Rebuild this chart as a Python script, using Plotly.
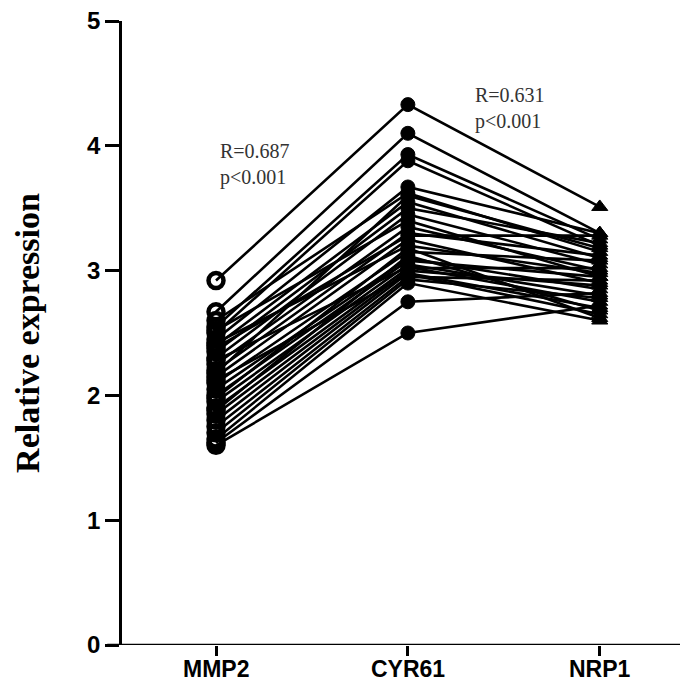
import plotly.graph_objects as go

categories = ["MMP2", "CYR61", "NRP1"]

mmp2 = [2.92, 2.67, 2.55, 2.50, 2.45, 2.60, 2.40, 2.35, 2.30, 2.52, 2.25, 2.20, 2.15, 2.42, 2.10, 2.05,
        2.00, 1.95, 2.28, 1.90, 1.85, 1.80, 2.12, 1.75, 1.70, 1.98, 1.65, 1.62, 1.60, 2.18, 1.88, 2.38]
cyr61 = [4.33, 4.10, 3.93, 3.88, 3.67, 3.62, 3.55, 3.50, 3.45, 3.40, 3.35, 3.30, 3.25, 3.20, 3.15, 3.10,
         3.08, 3.05, 3.03, 3.02, 3.00, 2.98, 2.97, 2.95, 2.93, 3.18, 2.90, 2.75, 2.50, 3.60, 3.12, 3.28]
nrp1 = [3.51, 3.30, 3.25, 3.20, 3.30, 3.15, 3.10, 3.22, 3.05, 2.95, 3.00, 3.12, 2.90, 2.98, 3.08, 2.85,
        2.95, 2.80, 2.75, 3.02, 2.88, 2.70, 2.65, 2.92, 2.78, 2.62, 2.60, 2.82, 2.72, 3.18, 2.68, 3.28]

y_ticks = [0, 1, 2, 3, 4, 5]
annotations_text = ["R=0.687<br>p<0.001", "R=0.631<br>p<0.001"]

fig = go.Figure()
for a, b, c in zip(mmp2, cyr61, nrp1):
    fig.add_trace(go.Scatter(
        x=categories, y=[a, b, c], mode="lines+markers",
        line=dict(color="black", width=2.6),
        marker=dict(symbol=["circle-open", "circle", "triangle-up"], size=[15, 14, 14],
                    color="black", opacity=1, line=dict(color="black", width=[4.5, 1, 1])),
        showlegend=False, hoverinfo="skip"))

fig.add_annotation(x=0.01, y=3.85, xref="x", yref="y", text=annotations_text[0], showarrow=False,
                   xanchor="left", yanchor="middle", align="left",
                   font=dict(family="Liberation Serif", size=20, color="#333333"))
fig.add_annotation(x=1.34, y=4.30, xref="x", yref="y", text=annotations_text[1], showarrow=False,
                   xanchor="left", yanchor="middle", align="left",
                   font=dict(family="Liberation Serif", size=20, color="#333333"))

# category labels under the ticks
for cat in categories:
    fig.add_annotation(x=cat, y=0, xref="x", yref="paper", text=cat, showarrow=False,
                       xanchor="center", yanchor="top", yshift=-10, borderpad=0,
                       font=dict(family="Liberation Sans", size=23, color="black", weight="bold"))

# x axis line extending slightly left of the y axis
fig.add_shape(type="line", xref="paper", yref="y", x0=-0.026, x1=1, y0=0, y1=0,
              line=dict(color="black", width=2.6))

# The page body has a default 8px margin, so the figure is 680px and the margins are shifted by 8px
fig.update_layout(
    width=680, height=680,
    margin=dict(l=114, r=0, t=13, b=43, autoexpand=False),
    plot_bgcolor="white", paper_bgcolor="white",
    xaxis=dict(type="category", range=[-0.49, 2.46], showgrid=False, zeroline=False, showline=False,
               automargin=False, ticks="outside", ticklen=10, tickwidth=2.6, tickcolor="black",
               showticklabels=False),
    yaxis=dict(range=[0, 5], tickvals=y_ticks, showgrid=False, zeroline=False, showline=True,
               automargin=False, linecolor="black", linewidth=2.6, ticks="outside", ticklen=14,
               tickwidth=2.6, tickcolor="black", ticklabeloverflow="allow",
               tickfont=dict(family="Liberation Sans", size=24, color="black", weight="bold"),
               title=dict(text="Relative expression", standoff=38,
                          font=dict(family="Liberation Serif", size=34, color="black", weight="bold"))),
)

fig.write_html("out.html")
